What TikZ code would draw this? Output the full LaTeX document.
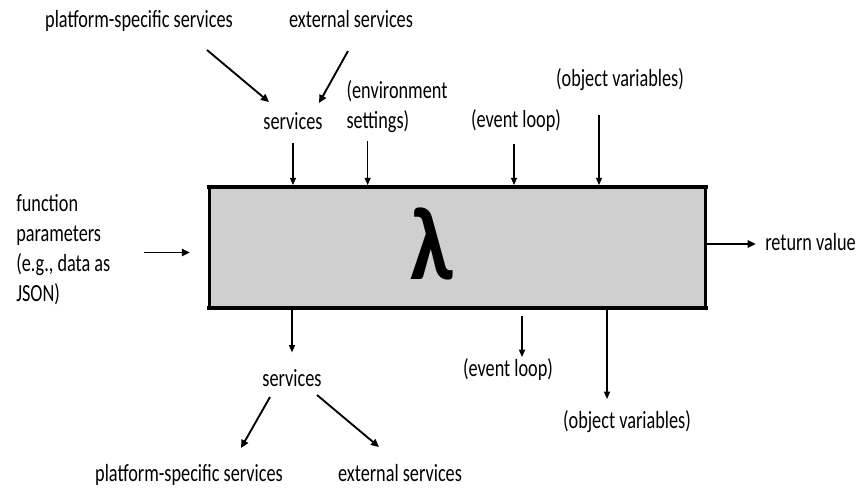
\documentclass[tikz,border=0pt]{standalone}
\usepackage{fontspec}
\setmainfont{Carlito}
\newfontfamily\narrowfont{Carlito}[FakeStretch=0.74]
\usetikzlibrary{arrows.meta, positioning}
\definecolor{boxgray}{RGB}{208,207,208}
\tikzstyle{fnbox}    = [rectangle, draw=black, line width=1.6pt, fill=boxgray,
                        minimum width=372pt, minimum height=89pt, inner sep=0pt]
\tikzstyle{txt}      = [inner sep=0pt, font=\narrowfont\fontsize{18.5}{22.5}\selectfont,
                        text height=13pt, text depth=4pt]
\tikzstyle{txtmulti} = [inner sep=0pt, align=left, font=\narrowfont\fontsize{18.5}{22.5}\selectfont]
\tikzstyle{arrow}    = [-{Triangle[length=5.5pt, width=4.5pt]}, line width=1pt, shorten >=1.5pt]
\tikzstyle{arrowthick} = [-{Triangle[length=6pt, width=5.5pt]}, line width=1.4pt]

\begin{document}
\begin{tikzpicture}[x=0.75pt, y=-0.75pt]
    \useasboundingbox (0,0) rectangle (863,488);

    % the function box
    \node (fn) [fnbox] at (457.5,247.5) {};
    \draw[line width=3pt] ([shift={(-1,0)}]fn.north west) -- ([shift={(1,0)}]fn.north east);
    \draw[line width=3pt] ([shift={(-1,0)}]fn.south west) -- ([shift={(1,0)}]fn.south east);
    \node (lam) at (432,244) {\fontsize{78}{78}\selectfont\bfseries\scalebox{0.85}[1]{λ}};

    % inputs
    \node (pstop) [txt] at (139,22) {platform-specific services};
    \node (extop) [txt] at (351,22) {external services};
    \node (svctop) [txt] at (293,124) {services};
    \node (envtop) [txtmulti] at (397,107) {(environment\\settings)};
    \node (evtop) [txt] at (516,122) {(event loop)};
    \node (objtop) [txt] at (620,81) {(object variables)};
    \node (params) [txtmulti, anchor=west] at (16,250) {function\\parameters\\(e.g., data as\\JSON)};

    % outputs
    \node (ret) [txt, anchor=west] at (765,244) {return value};
    \node (svcbot) [txt] at (292,380) {services};
    \node (psbot) [txt] at (189,475) {platform-specific services};
    \node (exbot) [txt] at (400,475) {external services};
    \node (evbot) [txt] at (508,370) {(event loop)};
    \node (objbot) [txt] at (627,422) {(object variables)};

    \draw[arrowthick] ([shift={(68,28)}]pstop.center) -- ([shift={(-24,-22)}]svctop.center);
    \draw[arrowthick] ([shift={(-3,29)}]extop.center) -- ([shift={(26,-21)}]svctop.center);
    \draw[arrow, shorten <=5.5pt] (svctop) -- (svctop |- fn.north);
    \draw[arrow, shorten <=6pt] ([xshift=-22pt]envtop.south) -- ([xshift=-22pt]envtop.south |- fn.north);
    \draw[arrow, shorten <=8pt] ([xshift=-1.5pt]evtop.south) -- ([xshift=-1.5pt]evtop.south |- fn.north);
    \draw[arrow, shorten <=17pt] ([xshift=-15.75pt]objtop.south) -- ([xshift=-15.75pt]objtop.south |- fn.north);
    \draw[arrowthick, shorten <=25pt, shorten >=14pt] ([shift={(0,5)}]params.east |- fn.west) -- ([shift={(0,5)}]fn.west);

    \draw[arrowthick, shorten >=7pt] (fn.east |- ret) -- (ret);
    \draw[arrow, shorten <=1pt, shorten >=12pt] (fn.south -| svcbot) -- (svcbot);
    \draw[arrow, shorten <=6pt, shorten >=1pt] ([xshift=10.5pt]fn.south -| evbot) -- ([xshift=10.5pt]evbot.north);
    \draw[arrow, shorten <=1pt, shorten >=8.5pt] ([xshift=-15pt]fn.south -| objbot) -- ([xshift=-15pt]objbot.north);
    \draw[arrowthick] ([shift={(-22,17)}]svcbot.center) -- ([shift={(52,-27)}]psbot.center);
    \draw[arrowthick] ([shift={(25,15)}]svcbot.center) -- ([shift={(-21,-28)}]exbot.center);
\end{tikzpicture}
\end{document}
